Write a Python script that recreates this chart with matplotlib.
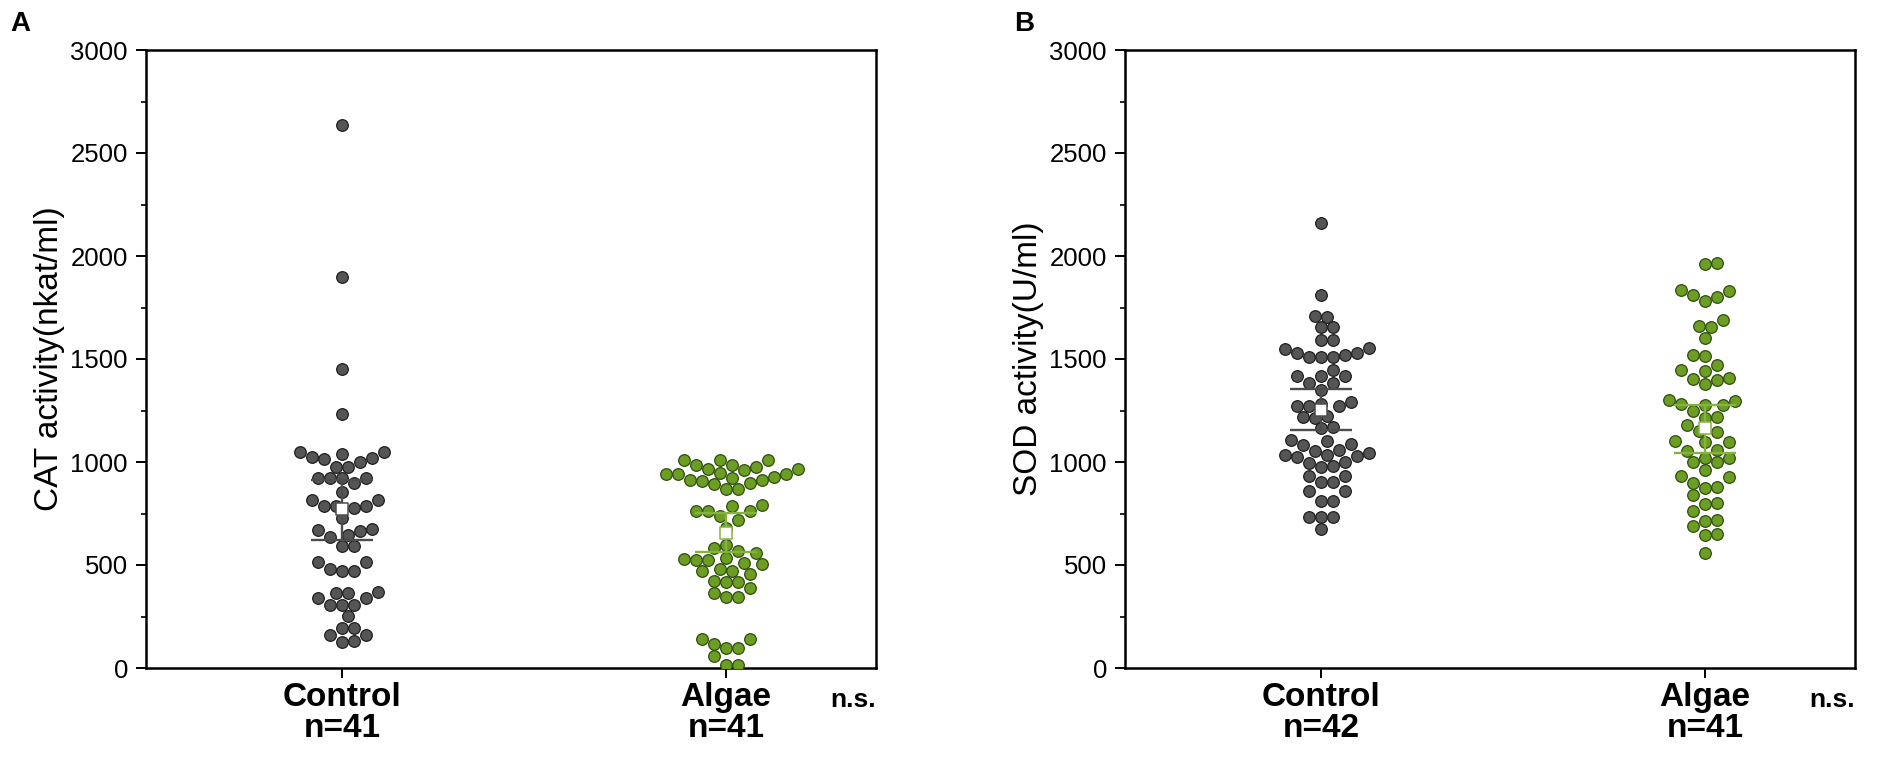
import numpy as np
import matplotlib.pyplot as plt

plt.rcParams['font.family'] = ['Liberation Sans', 'DejaVu Sans']

groups = ['Control', 'Algae']
cat_n = [41, 41]
sod_n = [42, 41]

# values
cat_control = [2636, 1898, 1451, 1235, 1050, 1040, 1050, 1024, 1000, 976, 1013, 1021,
               976, 921, 921, 900, 921, 921, 854, 814, 817, 785, 776, 788, 788, 730,
               665, 676, 672, 646, 636, 592, 592, 515, 515, 471, 471, 481, 366, 371,
               366, 338, 308, 308, 341, 308, 252, 196, 196, 160, 160, 131, 128]
cat_algae = [1010, 1010, 1010, 986, 960, 940, 915, 900, 867, 948, 964, 920, 915, 929,
             895, 940, 964, 944, 906, 867, 985, 975, 764, 790, 760, 738, 764, 787, 718,
             681, 598, 584, 569, 557, 535, 527, 503, 471, 525, 511, 525, 471, 482, 455,
             422, 417, 417, 390, 362, 346, 346, 139, 139, 118, 96, 96, 58, 15, 15]
sod_control = [2159, 1811, 1705, 1710, 1654, 1654, 1592, 1592, 1531, 1520, 1547, 1552,
               1531, 1511, 1511, 1511, 1447, 1419, 1382, 1419, 1419, 1382, 1350, 1272,
               1272, 1293, 1280, 1272, 1225, 1218, 1215, 1171, 1163, 1087, 1103, 1107,
               1083, 1055, 1029, 1001, 977, 1032, 1032, 997, 1045, 1026, 1058, 981, 934,
               934, 905, 905, 859, 859, 812, 812, 735, 735, 735, 673]
sod_algae = [1965, 1960, 1835, 1830, 1810, 1800, 1780, 1690, 1660, 1655, 1600, 1520,
             1515, 1470, 1445, 1440, 1410, 1405, 1400, 1380, 1300, 1295, 1280, 1278,
             1275, 1250, 1220, 1215, 1180, 1150, 1145, 1100, 1098, 1095, 1060, 1055,
             1020, 1018, 1000, 998, 960, 930, 925, 900, 880, 875, 840, 800, 795, 760,
             720, 715, 690, 650, 645, 560]

# mean and error bar ends (lower, upper) as drawn
cat_mean = [772, 657]
cat_lo = [623, 563]
cat_hi = [913, 751]
sod_mean = [1252, 1165]
sod_lo = [1154, 1045]
sod_hi = [1353, 1275]

fills = ['#555555', '#6b9e23']
edges = ['#1e1e1e', '#2f4d0c']
bar_colors = ['#4d4d4d', '#86b33f']

W, H = 1904, 758
XLIM = (0.49, 2.39)
DIAM = 12.0


def swarm_offsets(vals, px_x, px_y, diam, min_frac=1.0):
    vals = np.asarray(vals, float)
    step = diam / 2
    cands = [0.0]
    for k in range(1, 40):
        cands += [k * step, -k * step]
    px, py = [], []
    offs = np.zeros(len(vals))
    for i in np.argsort(vals):
        y = vals[i] * px_y
        ax_ = np.array(px)
        ay_ = np.array(py)
        for c in cands:
            if len(ax_) == 0 or np.all((ax_ - c) ** 2 + (ay_ - y) ** 2 >= (min_frac * diam) ** 2):
                break
        offs[i] = c
        px.append(c)
        py.append(y)
    return offs / px_x


def draw_panel(ax, data, means, los, his, ns, ylabel):
    ax.set_xlim(*XLIM)
    ax.set_ylim(0, 3000)
    pos = ax.get_position()
    px_x = pos.width * W / (XLIM[1] - XLIM[0])
    px_y = pos.height * H / 3000
    for i, vals in enumerate(data):
        x = i + 1
        offs = swarm_offsets(vals, px_x, px_y, DIAM)
        ax.scatter(x + offs, vals, s=70, facecolor=fills[i], edgecolor=edges[i],
                   linewidth=0.9, zorder=3)
        ax.errorbar(x, means[i], yerr=[[means[i] - los[i]], [his[i] - means[i]]],
                    fmt='none', ecolor=bar_colors[i], elinewidth=1.7, capsize=22,
                    capthick=1.7, zorder=4)
        ax.scatter([x], [means[i]], marker='s', s=72, facecolor='white',
                   edgecolor=bar_colors[i], linewidth=1.1, zorder=5)

    ax.set_xticks([1, 2])
    ax.set_xticklabels([f'{g}\nn={n}' for g, n in zip(groups, ns)],
                       fontsize=24, fontweight='bold', linespacing=1.0)
    ax.set_yticks(np.arange(0, 3001, 500))
    ax.set_yticks(np.arange(250, 3000, 500), minor=True)
    ax.tick_params(axis='y', which='major', length=7, width=1.4, labelsize=18.5, pad=6)
    ax.tick_params(axis='y', which='minor', length=3.5, width=1.2)
    ax.tick_params(axis='x', length=7, width=1.4, pad=3)
    for sp in ax.spines.values():
        sp.set_linewidth(1.8)
    ax.set_ylabel(ylabel, fontsize=24, labelpad=4)
    ax.text(1.0, -0.052, 'n.s.', transform=ax.transAxes, ha='right', va='center',
            fontsize=19, fontweight='bold')


fig = plt.figure(figsize=(W / 100, H / 100), dpi=100)
ax1 = fig.add_axes([146 / W, 1 - 668 / H, 730 / W, 618 / H])
ax2 = fig.add_axes([1125 / W, 1 - 668 / H, 730 / W, 618 / H])

draw_panel(ax1, [cat_control, cat_algae], cat_mean, cat_lo, cat_hi, cat_n,
           'CAT activity(nkat/ml)')
draw_panel(ax2, [sod_control, sod_algae], sod_mean, sod_lo, sod_hi, sod_n,
           'SOD activity(U/ml)')

fig.text(10 / W, 1 - 24 / H, 'A', ha='left', va='center', fontsize=20, fontweight='bold')
fig.text(1014 / W, 1 - 24 / H, 'B', ha='left', va='center', fontsize=20, fontweight='bold')

fig.savefig('out.png', dpi=100)
